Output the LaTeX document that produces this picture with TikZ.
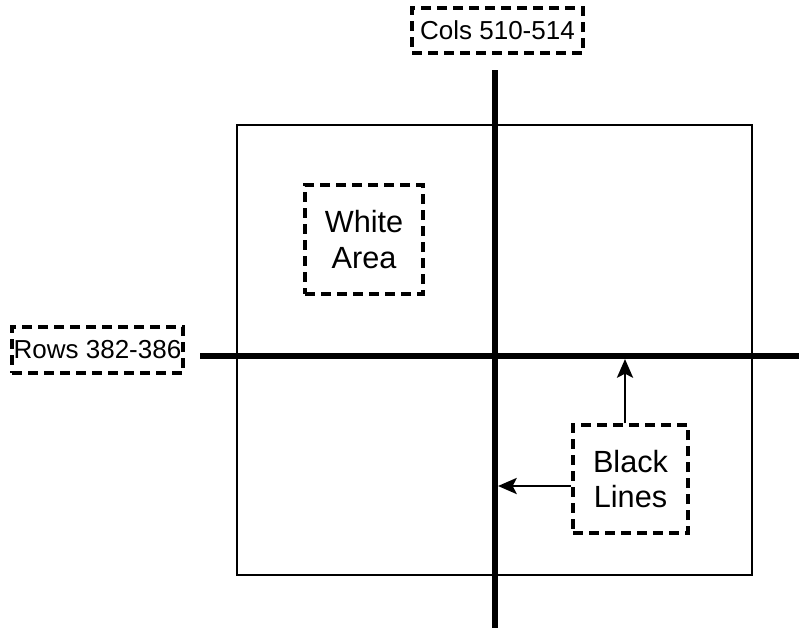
\documentclass[tikz,border=0pt]{standalone}
\usepackage{fontspec}
\setmainfont{Liberation Sans}
\usetikzlibrary{arrows.meta}

\begin{document}
\begin{tikzpicture}[x=0.75pt,y=-0.75pt]
\tikzstyle{every node}+=[inner sep=0pt]
\tikzstyle{dashbox}=[draw, line width=2.6pt, dash pattern=on 7.5pt off 4.5pt]
\tikzstyle{tag}=[font=\fontsize{19.5}{24}\selectfont]
\tikzstyle{note}=[font=\fontsize{23}{26.5}\selectfont, align=center]
\tikzstyle{pointer}=[line width=2.2pt, -{Stealth[length=14pt,width=12pt,inset=3pt]}]
\useasboundingbox (0,0) rectangle (799,628);
% image outline
\draw [line width=2pt] (237,125) rectangle (752,575);
% black lines through the image
\coordinate (vtop) at (495,70);
\coordinate (vbot) at (495,628);
\coordinate (hleft) at (200,356);
\coordinate (hright) at (799,356);
\draw [line width=4.8pt] (vtop) -- (vbot);
\draw [line width=4.3pt] (hleft) -- (hright);
% labels
\node [dashbox, tag, minimum width=128.25pt, minimum height=33.75pt] (cols) at (497.5,30.5) {Cols 510-514};
\node [dashbox, tag, minimum width=128.25pt, minimum height=34.5pt] (rows) at (97.5,350) {Rows 382-386};
\node [dashbox, note, minimum width=88.5pt, minimum height=81.75pt] (white) at (364,239.5) {White\\Area};
\node [dashbox, note, minimum width=86.25pt, minimum height=81pt] (black) at (630.5,479) {Black\\Lines};
% arrows to the lines
\coordinate (hitup) at (625,359);
\coordinate (hitleft) at (498,486);
\draw [pointer] (black.north -| hitup) -- (hitup);
\draw [pointer] (black.west |- hitleft) -- (hitleft);
\end{tikzpicture}
\end{document}
